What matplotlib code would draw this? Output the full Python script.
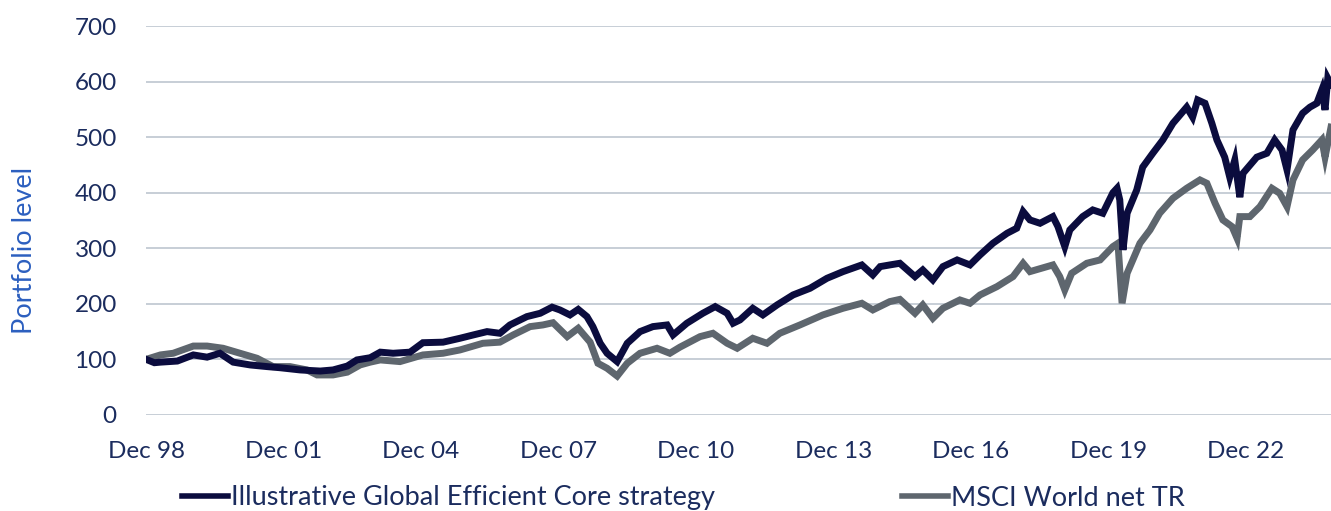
import numpy as np
import matplotlib.pyplot as plt

# Valores (ano decimal, nível da carteira)
strat_t = [1998.92, 1999.10, 1999.23, 1999.60, 1999.95, 2000.25, 2000.53, 2000.82, 2001.19, 2001.56,
           2001.84, 2002.28, 2002.72, 2003.00, 2003.31, 2003.52, 2003.81, 2004.03, 2004.31, 2004.68,
           2004.96, 2005.40, 2005.77, 2006.06, 2006.36, 2006.64, 2006.86, 2007.23, 2007.52, 2007.78,
           2007.95, 2008.17, 2008.35, 2008.54, 2008.67, 2008.83, 2008.98, 2009.20, 2009.42, 2009.70,
           2009.98, 2010.29, 2010.42, 2010.72, 2011.07, 2011.34, 2011.60, 2011.73, 2011.88, 2012.16,
           2012.38, 2012.69, 2013.04, 2013.41, 2013.78, 2014.13, 2014.54, 2014.78, 2014.94, 2015.15,
           2015.37, 2015.70, 2015.87, 2016.09, 2016.31, 2016.62, 2016.90, 2017.12, 2017.40, 2017.71,
           2017.92, 2018.06, 2018.21, 2018.43, 2018.71, 2018.82, 2018.97, 2019.08, 2019.36, 2019.58,
           2019.80, 2020.02, 2020.11, 2020.17, 2020.24, 2020.33, 2020.54, 2020.67, 2020.89, 2021.11,
           2021.33, 2021.63, 2021.76, 2021.87, 2022.03, 2022.18, 2022.29, 2022.46, 2022.57, 2022.68,
           2022.79, 2022.86, 2023.16, 2023.38, 2023.55, 2023.71, 2023.82, 2023.95, 2024.16, 2024.32,
           2024.47, 2024.58, 2024.65, 2024.71, 2024.78]
strat_v = [100, 94, 95, 97, 108, 104, 111, 95, 90, 87,
           85, 81, 79, 81, 88, 99, 103, 113, 111, 113,
           130, 131, 138, 144, 150, 147, 162, 177, 183, 194,
           189, 180, 190, 177, 159, 129, 111, 96, 129, 150,
           159, 162, 144, 165, 183, 195, 183, 165, 171, 192,
           180, 198, 216, 228, 246, 258, 270, 252, 267, 270,
           273, 249, 261, 243, 267, 279, 270, 288, 309, 327,
           336, 366, 351, 345, 357, 339, 303, 333, 357, 369,
           363, 400, 408, 387, 297, 363, 405, 446, 471, 495,
           525, 554, 536, 567, 561, 525, 495, 464, 428, 459,
           392, 435, 464, 471, 495, 477, 441, 513, 543, 554,
           561, 585, 549, 606, 595]

msci_t = [1998.92, 1999.23, 1999.51, 1999.95, 2000.25, 2000.60, 2000.97, 2001.34, 2001.69, 2002.06,
          2002.43, 2002.65, 2003.00, 2003.31, 2003.59, 2003.81, 2004.03, 2004.46, 2004.96, 2005.40,
          2005.77, 2006.27, 2006.64, 2006.93, 2007.30, 2007.58, 2007.80, 2008.11, 2008.35, 2008.61,
          2008.78, 2008.98, 2009.20, 2009.42, 2009.70, 2010.07, 2010.35, 2010.57, 2011.01, 2011.29,
          2011.60, 2011.82, 2012.16, 2012.47, 2012.75, 2013.19, 2013.69, 2014.13, 2014.54, 2014.78,
          2015.15, 2015.37, 2015.70, 2015.87, 2016.09, 2016.31, 2016.68, 2016.90, 2017.12, 2017.49,
          2017.84, 2018.06, 2018.21, 2018.71, 2018.86, 2018.97, 2019.12, 2019.45, 2019.74, 2020.02,
          2020.13, 2020.22, 2020.33, 2020.61, 2020.83, 2021.04, 2021.33, 2021.63, 2021.92, 2022.07,
          2022.25, 2022.42, 2022.62, 2022.73, 2022.79, 2023.01, 2023.23, 2023.49, 2023.66, 2023.82,
          2023.95, 2024.16, 2024.38, 2024.58, 2024.65, 2024.78]
msci_v = [100, 108, 111, 124, 124, 120, 111, 102, 87, 87,
          81, 72, 72, 77, 90, 95, 99, 96, 108, 111,
          117, 129, 131, 144, 159, 162, 166, 141, 156, 131,
          93, 84, 70, 93, 111, 120, 111, 122, 141, 147,
          129, 120, 138, 129, 147, 162, 180, 192, 201, 189,
          204, 208, 183, 198, 174, 192, 207, 201, 216, 231,
          249, 273, 258, 270, 249, 225, 255, 273, 279, 303,
          309, 201, 255, 309, 333, 363, 390, 408, 423, 417,
          381, 351, 339, 318, 357, 357, 375, 408, 399, 375,
          423, 459, 477, 495, 464, 518]

tick_pos = [1998.917 + 3 * k for k in range(9)]
tick_lab = ['Dec 98', 'Dec 01', 'Dec 04', 'Dec 07', 'Dec 10', 'Dec 13', 'Dec 16', 'Dec 19', 'Dec 22']

COR_TEXTO = '#1b2c5e'
COR_NAVY = '#0b0c3e'
COR_CINZA = '#5e666e'

plt.rcParams['font.family'] = ['Lato', 'DejaVu Sans']

fig = plt.figure(figsize=(13.31, 5.11), dpi=100)
ax = fig.add_axes([0.1097, 0.188, 0.8903, 0.761])

l1, = ax.plot(strat_t, strat_v, color=COR_NAVY, linewidth=5, solid_joinstyle='miter', zorder=3)
l2, = ax.plot(msci_t, msci_v, color=COR_CINZA, linewidth=5, solid_joinstyle='miter', zorder=2)

ax.set_xlim(1998.92, 2024.78)
ax.set_ylim(0, 700)
ax.set_yticks(np.arange(0, 701, 100))
ax.set_xticks(tick_pos)
ax.set_xticklabels(tick_lab)
ax.grid(axis='y', color='#c3cad3', linewidth=1.3)
ax.set_axisbelow(True)
for s in ax.spines.values():
    s.set_visible(False)
ax.tick_params(length=0, labelsize=17.5, colors=COR_TEXTO)
ax.tick_params(axis='y', pad=21)
ax.tick_params(axis='x', pad=19)

ax.set_ylabel('Portfolio level', fontsize=19.5, color='#2c5fbf')
ax.yaxis.set_label_coords(-0.092, 0.424)

# Legenda em duas partes, posicionadas em coordenadas da figura
legendas = []
for linha, texto, x0 in [(l1, 'Illustrative Global Efficient Core strategy', 182 / 1331),
                         (l2, 'MSCI World net TR', 902 / 1331)]:
    leg = fig.legend([linha], [texto], loc='center left', bbox_to_anchor=(x0, 1 - 498 / 511),
                     frameon=False, fontsize=19.5, handlelength=1.7, handletextpad=0.12,
                     borderaxespad=0, borderpad=0)
    leg.get_texts()[0].set_color(COR_TEXTO)
    leg.get_lines()[0].set_linewidth(4)
    legendas.append(leg)

fig.savefig('out.png', dpi=100)
